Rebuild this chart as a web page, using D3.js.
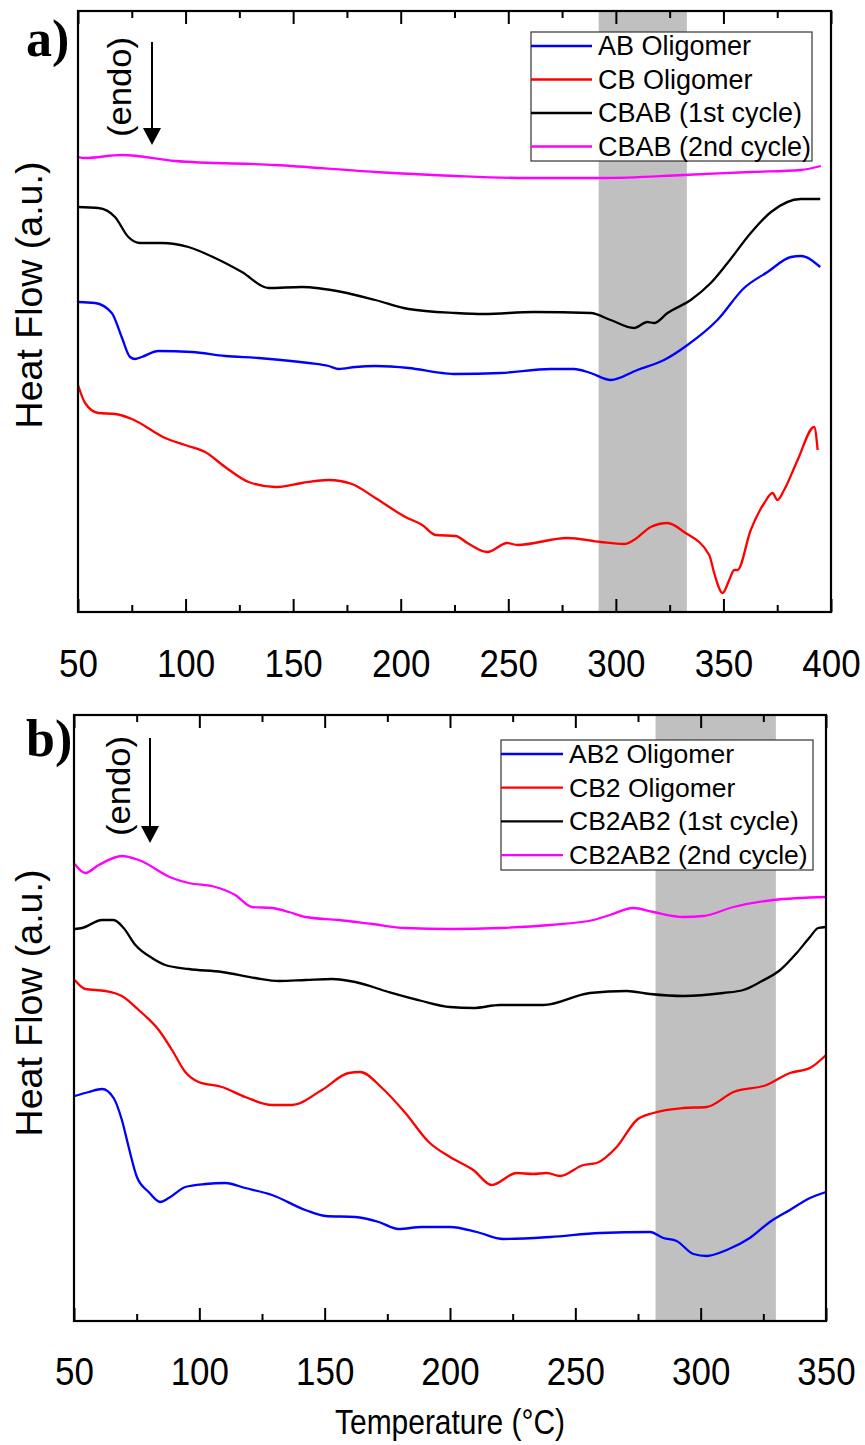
<!DOCTYPE html>
<html><head><meta charset="utf-8">
<script src="https://cdn.jsdelivr.net/npm/d3@7"></script>
<style>body{margin:0;background:#fff}svg{display:block}</style>
</head><body>
<script>
// ---------- DATA (Heat flow in arbitrary units vs temperature °C) ----------
// Panel a
const aTicksMajor = [50,100,150,200,250,300,350,400];
const aTicksMinor = [75,125,175,225,275,325,375];
const aBand = [292, 333];
const aLabels = ["AB Oligomer","CB Oligomer","CBAB (1st cycle)","CBAB (2nd cycle)"];
const aAB_T = [50,57.9,65.7,70.3,74.2,76.5,79.6,87.4,102.9,118.4,133.9,157.2,166.5,171.2,178.9,188.2,203.7,219.3,225.5,246.4,269.7,280.5,288.3,297.6,310,322.4,333.3,347.2,359.6,370.5,381.4,386,395];
const aAB_V = [31.0,30.9,29.9,27.5,25.5,25.3,25.5,26.1,26.0,25.6,25.4,24.9,24.6,24.3,24.5,24.6,24.4,23.9,23.8,23.9,24.3,24.3,23.9,23.2,24.2,25.2,26.7,29.2,32.4,34.0,35.5,35.6,34.5];
const aCB_T = [50,53.3,59.4,67.2,75,90.5,99.8,109.1,118.4,129.3,141.7,154.1,166.5,177.3,188.2,202.2,210,216.2,225.5,231,240.3,249.5,254.2,277.4,292.9,303.8,308.4,316.2,324,331.7,343.4,345.7,349.6,352.7,355,356.5,362.7,369,372.8,375.1,378.2,384.5,392.2,393.8];
const aCB_V = [22.7,20.9,19.9,19.8,19.3,17.4,16.7,16.0,14.5,13.0,12.5,12.9,13.2,12.8,11.4,9.5,8.7,7.7,7.6,6.9,6.0,6.9,6.7,7.4,7.0,6.8,7.2,8.5,8.9,8.0,5.7,3.9,1.9,3.2,4.2,4.2,8.2,10.9,11.9,11.2,12.2,15.2,18.5,16.2];
const aC1_T = [50,59.4,67.2,73.4,78.9,89,101.3,113.7,126.2,138.6,154.1,172.7,188.2,203.7,225.5,238.6,261.9,288.3,297.6,308.4,314.7,317.8,324,334.8,344.1,351.9,362.7,372.1,386,395];
const aC1_V = [40.5,40.4,39.5,37.5,36.9,36.9,36.5,35.4,34.0,32.4,32.5,32.0,31.2,30.3,29.9,29.8,30.0,29.9,29.2,28.4,29.0,28.9,29.9,31.2,32.9,34.9,37.9,40.0,41.3,41.3];
const aC2_T = [50,53.3,70.3,95.1,141.7,188.2,225.5,258.8,294.3,331.6,362.7,386,395.3];
const aC2_V = [45.5,45.4,45.7,45.1,44.7,44.0,43.6,43.4,43.4,43.7,44.0,44.2,44.6];

// Panel b
const bTicksMajor = [50,100,150,200,250,300,350];
const bTicksMinor = [75,125,175,225,275,325];
const bBand = [282, 330];
const bLabels = ["AB2 Oligomer","CB2 Oligomer","CB2AB2 (1st cycle)","CB2AB2 (2nd cycle)"];
const bAB_T = [50.3,55.9,61.2,65.8,69.1,71.8,75.1,79.8,84.4,87.8,94.4,102.4,110.4,118.3,129,142.3,150.3,162.2,171.6,179.5,188.8,200,210.7,221.3,239.9,259.8,279.8,285.1,290.4,297.1,302.4,310.4,319.6,327.6,335.6,343.6,350];
const bAB_V = [22.5,22.9,23.2,22.3,20.1,17.4,14.4,12.9,11.9,12.3,13.4,13.7,13.8,13.3,12.6,11.1,10.5,10.4,9.9,9.2,9.4,9.4,8.9,8.2,8.4,8.8,8.9,8.3,8.0,6.7,6.5,7.1,8.3,9.9,11.1,12.3,12.9];
const bCB_T = [50.3,54.5,62.5,69.1,75.8,83.8,89.1,94.4,99.7,109,118.3,129,137,148.9,159.6,164.2,172.9,182.2,191.5,200,209.3,216.6,226.6,233.2,238.6,243.9,253.2,258.5,266.5,274.5,281.1,293.1,302.4,313.1,326.3,335.6,343.6,350];
const bCB_V = [34.1,33.2,33.0,32.5,31.1,29.1,27.1,24.9,23.9,23.4,22.4,21.6,21.6,23.1,24.8,24.9,23.3,20.8,17.9,16.4,15.1,13.6,14.8,14.7,14.8,14.5,15.6,15.8,17.4,20.1,20.8,21.3,21.4,22.9,23.6,24.8,25.3,26.6];
const bC1_T = [50.3,53.2,61.2,65.8,69.8,74.5,81.1,86.4,95.8,109,122.3,131.7,142.3,152.9,162.2,175.5,188.8,200,209.3,219.9,237.2,255.8,270.5,279.8,293.1,309,317,323.7,331.7,338.3,343.6,346.9,350];
const bC1_V = [39.2,39.3,40.1,40.1,39.3,37.6,36.3,35.6,35.2,34.9,34.3,34.0,34.1,34.2,33.9,32.9,32.0,31.4,31.3,31.6,31.6,32.8,33.0,32.7,32.5,32.8,33.1,33.9,35.1,36.8,38.4,39.3,39.4];
const bC2_T = [50.3,54.5,59.9,69.1,75.8,89.1,95.8,106.4,114.3,121,129,135.7,142.3,155.6,168.9,182.2,200,219.9,239.9,257.2,263.8,273.1,281.1,293.1,301.1,313.1,329,350];
const bC2_V = [45.7,44.8,45.6,46.5,46.1,44.3,43.8,43.4,42.6,41.4,41.3,40.9,40.4,40.1,39.7,39.3,39.2,39.3,39.6,40.1,40.6,41.3,40.9,40.4,40.5,41.4,42.1,42.4];

const colors = ["#0000ff","#ff0000","#000000","#ff00ff"];

// ---------- DRAW ----------
const W = 865, H = 1445;
const FONT = "'Liberation Sans', Arial, sans-serif";
const svg = d3.select("body").append("svg").attr("width", W).attr("height", H);
const zip = (T, V) => T.map((t, i) => ({t, v: V[i]}));
const SY = 1.12; // vertical stretch of the tick labels

function panel(cfg) {
  const x = d3.scaleLinear().domain(cfg.xdom).range([cfg.left, cfg.right]);
  const y = d3.scaleLinear().domain(cfg.ydom).range([cfg.bottom, cfg.top]);
  const g = svg.append("g");
  // shaded band
  g.append("rect").attr("x", x(cfg.band[0])).attr("width", x(cfg.band[1]) - x(cfg.band[0]))
    .attr("y", cfg.top).attr("height", cfg.bottom - cfg.top).attr("fill", "#c0c0c0");
  // lines
  const line = d3.line().x(d => x(d.t)).y(d => y(d.v)).curve(d3.curveMonotoneX);
  cfg.series.forEach((s, i) => {
    g.append("path").datum(zip(s[0], s[1])).attr("d", line)
      .attr("fill", "none").attr("stroke", colors[i]).attr("stroke-width", 2.3)
      .attr("stroke-linejoin", "round");
  });
  // axes (ticks inward)
  const fs = 35;
  const bot = g.append("g").attr("transform", `translate(0,${cfg.bottom})`)
    .call(d3.axisBottom(x).tickValues(cfg.major).tickSize(-13).tickPadding(cfg.pad).tickFormat(d3.format("d")));
  bot.selectAll("text").attr("font-size", fs).attr("font-family", FONT).attr("fill", "#000")
    .attr("transform", `scale(1,${SY})`);
  g.append("g").attr("transform", `translate(0,${cfg.bottom})`)
    .call(d3.axisBottom(x).tickValues(cfg.minor).tickSize(-7).tickFormat(""));
  g.append("g").attr("transform", `translate(0,${cfg.top})`)
    .call(d3.axisTop(x).tickValues(cfg.major).tickSize(-13).tickFormat(""));
  g.append("g").attr("transform", `translate(0,${cfg.top})`)
    .call(d3.axisTop(x).tickValues(cfg.minor).tickSize(-7).tickFormat(""));
  g.selectAll(".domain").remove();
  g.selectAll(".tick line").attr("stroke", "#000").attr("stroke-width", 2);
  // frame
  g.append("rect").attr("x", cfg.left).attr("y", cfg.top)
    .attr("width", cfg.right - cfg.left).attr("height", cfg.bottom - cfg.top)
    .attr("fill", "none").attr("stroke", "#000").attr("stroke-width", 2.2);
  // y title
  g.append("text").attr("transform", `translate(${cfg.ytx},${cfg.yty}) rotate(-90)`)
    .attr("text-anchor", "middle").attr("dominant-baseline", "central")
    .attr("font-family", FONT).attr("font-size", 37.5)
    .text("Heat Flow (a.u.)");
  // panel letter
  g.append("text").attr("x", 26).attr("y", cfg.letterY)
    .attr("font-family", "'Liberation Serif', 'Times New Roman', serif").attr("font-weight", "bold")
    .attr("font-size", 52).text(cfg.letter);
  // endo text + arrow
  g.append("text").attr("transform", `translate(${cfg.endoX},${cfg.endoY}) rotate(-90)`)
    .attr("text-anchor", "middle").attr("dominant-baseline", "central")
    .attr("font-family", FONT).attr("font-size", 34)
    .attr("textLength", 100).attr("lengthAdjust", "spacingAndGlyphs")
    .text("(endo)");
  g.append("line").attr("x1", cfg.arrX).attr("x2", cfg.arrX).attr("y1", cfg.arrY0).attr("y2", cfg.arrY1 - 14)
    .attr("stroke", "#000").attr("stroke-width", 2);
  g.append("path").attr("d", `M${cfg.arrX - 9},${cfg.arrY1 - 17} L${cfg.arrX + 9},${cfg.arrY1 - 17} L${cfg.arrX},${cfg.arrY1} Z`)
    .attr("fill", "#000");
  // legend
  const L = cfg.legend;
  const lg = g.append("g");
  lg.append("rect").attr("x", L.x).attr("y", L.y).attr("width", L.w).attr("height", L.h)
    .attr("fill", "#fff").attr("stroke", "#333").attr("stroke-width", 1.2);
  cfg.labels.forEach((lab, i) => {
    const yy = L.y + L.first + i * L.step;
    lg.append("line").attr("x1", L.x).attr("x2", L.x + L.lineW).attr("y1", yy).attr("y2", yy)
      .attr("stroke", colors[i]).attr("stroke-width", 2.3);
    lg.append("text").attr("x", L.x + L.lineW + 6).attr("y", yy).attr("dominant-baseline", "central")
      .attr("font-family", FONT).attr("font-size", L.fs).text(lab);
  });
  return {x, y};
}

panel({
  xdom: [50, 400], ydom: [0, 60.1], left: 78, right: 831, top: 11, bottom: 612,
  band: aBand, major: aTicksMajor, minor: aTicksMinor, pad: 33,
  series: [[aAB_T, aAB_V], [aCB_T, aCB_V], [aC1_T, aC1_V], [aC2_T, aC2_V]],
  labels: aLabels, ytx: 29, yty: 295, letter: "a)", letterY: 56,
  endoX: 119, endoY: 87, arrX: 152, arrY0: 42, arrY1: 145,
  legend: {x: 531, y: 32, w: 281, h: 129, first: 14, step: 33.5, lineW: 61, fs: 27}
});
panel({
  xdom: [50, 350], ydom: [0, 60.6], left: 74, right: 826, top: 715, bottom: 1321,
  band: bBand, major: bTicksMajor, minor: bTicksMinor, pad: 32.5,
  series: [[bAB_T, bAB_V], [bCB_T, bCB_V], [bC1_T, bC1_V], [bC2_T, bC2_V]],
  labels: bLabels, ytx: 29, yty: 1003, letter: "b)", letterY: 756,
  endoX: 118, endoY: 786, arrX: 150, arrY0: 738, arrY1: 843,
  legend: {x: 501, y: 740, w: 312, h: 130, first: 14, step: 33.7, lineW: 62, fs: 26.5}
});

// x axis title
svg.append("text").attr("x", 450).attr("y", 1434).attr("text-anchor", "middle")
  .attr("font-family", FONT).attr("font-size", 35)
  .attr("textLength", 230).attr("lengthAdjust", "spacingAndGlyphs")
  .text("Temperature (°C)");
</script>
</body></html>
